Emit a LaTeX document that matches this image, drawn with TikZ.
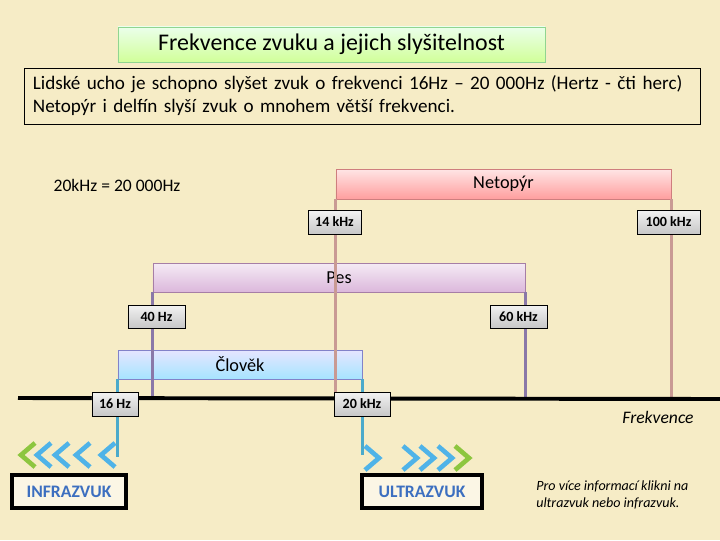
\documentclass[tikz,border=0pt]{standalone}
\usepackage{fontspec}
\setmainfont{Carlito}
\definecolor{parchment}{HTML}{F6ECC6}
\definecolor{batline}{HTML}{C99A94}
\definecolor{dogline}{HTML}{8A78A8}
\definecolor{humanline}{HTML}{4BAACB}
\definecolor{chevblue}{HTML}{4FB3E8}
\definecolor{chevgreen}{HTML}{8DC63F}
\definecolor{zvukblue}{HTML}{3C6FC0}
\newcommand{\fs}[1]{\fontsize{#1}{1.2\dimexpr#1pt\relax}\selectfont}
\tikzset{
  band/.style={draw=#1, line width=0.6pt, minimum height=0.75cm, inner sep=0pt, font=\fs{13}},
  hzlabel/.style={draw=black, line width=0.5pt, top color=white!95!black, bottom color=black!22,
    minimum height=0.6cm, inner sep=0pt, font=\bfseries\fs{10}},
  rangeline/.style={line width=1.6pt, #1},
  chevron/.style={line width=3.3pt, #1},
  zvukbox/.style={draw=black, line width=2.2pt, fill=white!55!parchment, minimum height=0.825cm,
    inner sep=0pt, text=zvukblue, font=\bfseries\fs{12.5}}
}
\begin{document}
\begin{tikzpicture}[x=0.025cm, y=-0.025cm]

  % background
  \fill[parchment] (0,0) rectangle (720,540);
  \useasboundingbox (0,0) rectangle (720,540);

  % heading and intro text
  \node[draw=green!45!gray!60, line width=0.6pt, top color=green!8, bottom color=green!45!yellow!40,
    minimum width=10.675cm, minimum height=0.875cm, font=\fs{17}] (title) at (331.5,44.5)
    {Frekvence zvuku a jejich slyšitelnost};
  \node[draw=black, line width=0.6pt, minimum width=16.875cm, minimum height=1.4cm,
    text width=16.475cm, inner xsep=0.2cm, align=left, font=\fontsize{13.6}{16.3}\selectfont] (intro) at (362.5,96)
    {Lidské ucho je schopno slyšet zvuk o frekvenci 16Hz – 20 000Hz (Hertz - čti herc)\\
     Netopýr i delfín slyší zvuk o mnohem větší frekvenci.};
  \node[font=\fs{12.5}] (khz) at (117,185) {20kHz = 20 000Hz};

  % hearing ranges
  \node[band=red!45!gray!70, top color=red!10, bottom color=red!38,
    minimum width=8.375cm] (netopyr) at (503.5,184) {Netopýr};
  \node[band=violet!45!gray!70, top color=violet!8, bottom color=violet!28,
    minimum width=9.3cm, minimum height=0.725cm] (pes) at (339,277.5) {Pes};
  \node[band=blue!40!gray!70, top color=blue!10, bottom color=blue!30!cyan!35,
    minimum width=6.1cm, minimum height=0.725cm] (clovek) at (240,364.5) {Člověk};

  % frequency axis
  \coordinate (axL) at (18,398);
  \coordinate (axR) at (720,399);
  \coordinate (infraEnd) at (118,457);
  \coordinate (ultraEnd) at (362,455);

  \draw[rangeline=batline] (netopyr.south west) -- (netopyr.south west |- axL);
  \draw[rangeline=batline] (netopyr.south east) -- (netopyr.south east |- axL);
  \draw[rangeline=dogline] (pes.south west) -- (pes.south west |- axL);
  \draw[rangeline=dogline] (pes.south east) -- (pes.south east |- axL);
  \draw[line width=2.8pt] (axL) -- (axR);
  \draw[rangeline=humanline] (clovek.south west) -- (clovek.south west |- infraEnd);
  \draw[rangeline=humanline] (clovek.south east) -- (clovek.south east |- ultraEnd);

  % limits
  \node[hzlabel, minimum width=1.325cm] (bat14) at (334.5,222) {14 kHz};
  \node[hzlabel, minimum width=1.575cm] (bat100) at (668.5,222) {100 kHz};
  \node[hzlabel, minimum width=1.425cm, minimum height=0.575cm] (dog40) at (156.5,316.5) {40 Hz};
  \node[hzlabel, minimum width=1.425cm, minimum height=0.575cm] (dog60) at (518.5,316.5) {60 kHz};
  \node[hzlabel, minimum width=1.15cm] (hum16) at (115,404) {16 Hz};
  \node[hzlabel, minimum width=1.4cm] (hum20) at (362,404) {20 kHz};

  \node[font=\itshape\fs{12.5}] (frekv) at (658,417) {Frekvence};

  % arrows to infra / ultra
  \foreach \x/\c in {21/chevgreen, 37/chevblue, 55/chevblue, 76/chevblue, 101/chevblue}
    \draw[chevron=\c] (\x+14,443) -- (\x,455) -- (\x+14,467);
  \foreach \x/\c in {365/chevblue, 403/chevblue, 420/chevblue, 438/chevblue, 455/chevgreen}
    \draw[chevron=\c] (\x,446) -- (\x+14,458) -- (\x,470);

  \node[zvukbox, minimum width=2.85cm] (infra) at (69,491.5) {INFRAZVUK};
  \node[zvukbox, minimum width=3cm] (ultra) at (422,491.5) {ULTRAZVUK};
  \node[anchor=west, align=left, inner sep=0pt, font=\itshape\fontsize{10}{11.5}\selectfont] (info) at (536,495)
    {Pro více informací klikni na\\ultrazvuk nebo infrazvuk.};

\end{tikzpicture}
\end{document}
